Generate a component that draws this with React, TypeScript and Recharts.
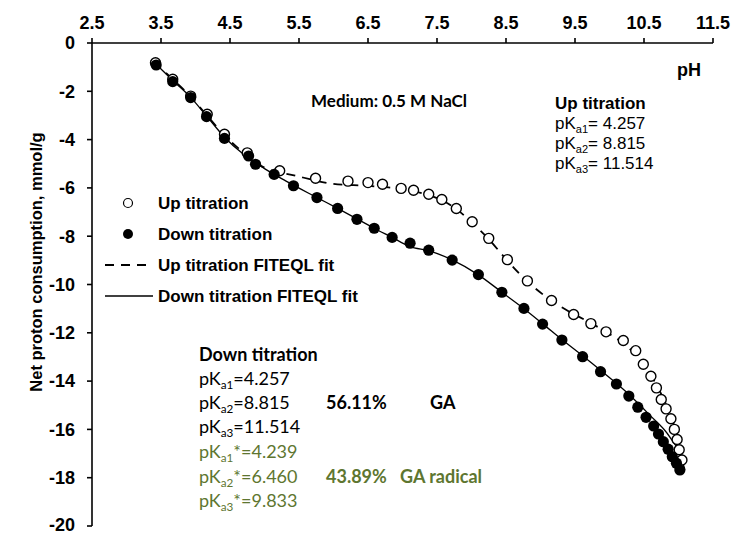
import React from 'react';
import { ComposedChart, Scatter, Line, XAxis, YAxis, Legend } from 'recharts';

// measured points (pH, net proton consumption in mmol/g)
const upTitrationPH = [3.42, 3.67, 3.93, 4.17, 4.42, 4.75, 5.22, 5.74, 6.21, 6.5, 6.71, 6.98, 7.16, 7.38, 7.57, 7.78, 8.01, 8.25, 8.52, 8.81, 9.16, 9.48, 9.73, 9.95, 10.2, 10.38, 10.49, 10.6, 10.68, 10.75, 10.82, 10.89, 10.94, 10.98, 11.01, 11.05];
const upTitrationNet = [-0.82, -1.5, -2.2, -2.95, -3.78, -4.55, -5.29, -5.6, -5.72, -5.78, -5.85, -6.02, -6.1, -6.26, -6.48, -6.85, -7.4, -8.09, -8.97, -9.85, -10.66, -11.24, -11.62, -11.96, -12.32, -12.74, -13.3, -13.8, -14.28, -14.76, -15.15, -15.56, -16.0, -16.42, -16.84, -17.27];

const downTitrationPH = [3.43, 3.67, 3.93, 4.16, 4.42, 4.77, 4.87, 5.14, 5.42, 5.76, 6.06, 6.34, 6.59, 6.85, 7.11, 7.38, 7.72, 8.1, 8.44, 8.76, 9.03, 9.31, 9.61, 9.87, 10.1, 10.28, 10.41, 10.53, 10.64, 10.71, 10.78, 10.85, 10.91, 10.97, 11.02];
const downTitrationNet = [-0.91, -1.6, -2.26, -3.05, -3.95, -4.68, -5.02, -5.44, -5.91, -6.4, -6.85, -7.3, -7.67, -8.05, -8.29, -8.58, -8.99, -9.59, -10.32, -10.99, -11.64, -12.3, -12.99, -13.61, -14.12, -14.62, -15.08, -15.5, -15.86, -16.19, -16.51, -16.82, -17.13, -17.4, -17.68];

// FITEQL fits
const upFitPH = [3.4, 3.67, 3.93, 4.16, 4.42, 4.7, 4.97, 5.46, 5.97, 6.5, 7.0, 7.38, 7.6, 7.8, 8.0, 8.25, 8.5, 8.8, 9.1, 9.4, 9.7, 10.0, 10.25, 10.45, 10.62, 10.76, 10.88, 10.97, 11.03, 11.07];
const upFitNet = [-0.8, -1.5, -2.22, -2.98, -3.82, -4.55, -5.12, -5.5, -5.82, -5.92, -6.05, -6.3, -6.55, -6.92, -7.42, -8.12, -8.95, -9.85, -10.55, -11.1, -11.55, -12.05, -12.55, -13.15, -13.85, -14.6, -15.4, -16.15, -16.85, -17.45];

const downFitPH = [3.4, 3.67, 3.93, 4.16, 4.42, 4.7, 5.0, 5.3, 5.76, 6.06, 6.34, 6.59, 6.85, 7.1, 7.4, 7.72, 8.1, 8.44, 8.76, 9.03, 9.31, 9.61, 9.87, 10.24, 10.58, 10.87, 11.06, 11.09];
const downFitNet = [-0.8, -1.55, -2.25, -3.02, -3.9, -4.62, -5.2, -5.7, -6.4, -6.85, -7.28, -7.67, -8.05, -8.42, -8.62, -8.98, -9.6, -10.32, -11.0, -11.62, -12.28, -12.95, -13.55, -14.44, -15.4, -16.3, -17.34, -17.68];

const xTicks = [2.5, 3.5, 4.5, 5.5, 6.5, 7.5, 8.5, 9.5, 10.5, 11.5];
const yTicks = [0, -2, -4, -6, -8, -10, -12, -14, -16, -18, -20];

const zip = (ph: number[], net: number[]) => ph.map((p, i) => ({ ph: p, net: net[i] }));

const upData = zip(upTitrationPH, upTitrationNet);
const downData = zip(downTitrationPH, downTitrationNet);
const upFit = zip(upFitPH, upFitNet);
const downFit = zip(downFitPH, downFitNet);

const ARIAL = '"Liberation Sans", Arial, sans-serif';
const CALIBRI = 'Lato, "Open Sans", sans-serif';
const GREEN = '#5e7630';

const OpenDot = (props: any) => (
  <circle cx={props.cx} cy={props.cy} r={5} fill="#fff" stroke="#000" strokeWidth={1.4} />
);
const FilledDot = (props: any) => (
  <circle cx={props.cx} cy={props.cy} r={5.6} fill="#000" />
);

const legendRows = [
  { label: 'Up titration', kind: 'open' },
  { label: 'Down titration', kind: 'filled' },
  { label: 'Up titration FITEQL fit', kind: 'dashed' },
  { label: 'Down titration FITEQL fit', kind: 'solid' },
];

const LegendContent = () => (
  <svg width={300} height={125} style={{ display: 'block' }}>
    {legendRows.map((r, i) => {
      const y = 16 + i * 31;
      return (
        <g key={r.label}>
          {r.kind === 'open' && <circle cx={28} cy={y} r={4.5} fill="#fff" stroke="#000" strokeWidth={1.2} />}
          {r.kind === 'filled' && <circle cx={28} cy={y} r={5} fill="#000" />}
          {r.kind === 'dashed' && <line x1={5} x2={53} y1={y} y2={y} stroke="#000" strokeWidth={1.8} strokeDasharray="9 7" />}
          {r.kind === 'solid' && <line x1={5} x2={53} y1={y} y2={y} stroke="#000" strokeWidth={1.3} />}
          <text x={58} y={y + 6} fontFamily={ARIAL} fontWeight="bold" fontSize={17} fill="#000">
            {r.label}
          </text>
        </g>
      );
    })}
  </svg>
);

// pK with a subscript and an optional asterisk
const PK = ({ x, y, sub, star, value, size, family, fill }: any) => (
  <text x={x} y={y} fontFamily={family} fontSize={size} fill={fill}>
    pK
    <tspan fontSize={size * 0.65} dy={size * 0.22}>{sub}</tspan>
    <tspan dy={-size * 0.22}>{star ? '*' : ''}{value}</tspan>
  </text>
);

const Annotations = () => (
  <svg width={736} height={535} style={{ position: 'absolute', left: 0, top: 0, pointerEvents: 'none' }}>
    <text transform="translate(42,262) rotate(-90)" textAnchor="middle" fontFamily={ARIAL} fontWeight="bold" fontSize={16.5} fill="#000">
      Net proton consumption, mmol/g
    </text>
    <text x={677} y={76} fontFamily={ARIAL} fontWeight="bold" fontSize={18} fill="#000">pH</text>
    <text x={311} y={107} fontFamily={CALIBRI} fontWeight="bold" fontSize={17} fill="#000">Medium: 0.5 M NaCl</text>

    <text x={555} y={109} fontFamily={ARIAL} fontWeight="bold" fontSize={17} fill="#000">Up titration</text>
    <PK x={555} y={129} sub="a1" value="= 4.257" size={17} family={ARIAL} fill="#000" />
    <PK x={555} y={149} sub="a2" value="= 8.815" size={17} family={ARIAL} fill="#000" />
    <PK x={555} y={169} sub="a3" value="= 11.514" size={17} family={ARIAL} fill="#000" />

    <text x={199} y={361} fontFamily={CALIBRI} fontWeight="bold" fontSize={18} fill="#000">Down titration</text>
    <PK x={199} y={385} sub="a1" value="=4.257" size={18} family={CALIBRI} fill="#000" />
    <PK x={199} y={409} sub="a2" value="=8.815" size={18} family={CALIBRI} fill="#000" />
    <PK x={199} y={433} sub="a3" value="=11.514" size={18} family={CALIBRI} fill="#000" />
    <PK x={199} y={458} sub="a1" star value="=4.239" size={18} family={CALIBRI} fill={GREEN} />
    <PK x={199} y={483} sub="a2" star value="=6.460" size={18} family={CALIBRI} fill={GREEN} />
    <PK x={199} y={507} sub="a3" star value="=9.833" size={18} family={CALIBRI} fill={GREEN} />

    <text x={326} y={409} fontFamily={CALIBRI} fontWeight="bold" fontSize={18} fill="#000">56.11%</text>
    <text x={430} y={409} fontFamily={CALIBRI} fontWeight="bold" fontSize={18} fill="#000">GA</text>
    <text x={326} y={483} fontFamily={CALIBRI} fontWeight="bold" fontSize={18} fill={GREEN}>43.89%</text>
    <text x={400} y={483} fontFamily={CALIBRI} fontWeight="bold" fontSize={18} fill={GREEN}>GA radical</text>
  </svg>
);

export default function App() {
  const tickStyle = { fill: '#000', fontSize: 18, fontWeight: 'bold', fontFamily: ARIAL };
  return (
    <div style={{ position: 'fixed', left: 0, top: 0, width: 736, height: 535, background: '#fff' }}>
      <ComposedChart width={736} height={535} margin={{ top: 13, right: 23, bottom: 9, left: 32 }}>
        <XAxis
          type="number"
          dataKey="ph"
          orientation="top"
          domain={[2.5, 11.5]}
          ticks={xTicks}
          tickFormatter={(v: number) => v.toFixed(1)}
          allowDataOverflow
          height={30}
          tick={tickStyle}
          tickSize={5}
          tickMargin={9}
          axisLine={{ stroke: '#000', strokeWidth: 1.6 }}
          tickLine={{ stroke: '#000', strokeWidth: 1.6 }}
        />
        <YAxis
          type="number"
          dataKey="net"
          domain={[-20, 0]}
          ticks={yTicks}
          allowDataOverflow
          width={60}
          tick={tickStyle}
          tickSize={5}
          tickMargin={12}
          axisLine={{ stroke: '#000', strokeWidth: 1.6 }}
          tickLine={{ stroke: '#000', strokeWidth: 1.6 }}
        />
        <Legend
          layout="vertical"
          align="center"
          verticalAlign="middle"
          wrapperStyle={{ left: 100, top: 187, width: 300 }}
          content={() => <LegendContent />}
        />
        <Scatter name="Up titration" data={upData} shape={OpenDot} isAnimationActive={false} />
        <Scatter name="Down titration" data={downData} shape={FilledDot} isAnimationActive={false} />
        <Line
          name="Up titration FITEQL fit"
          data={upFit}
          dataKey="net"
          type="monotone"
          stroke="#000"
          strokeWidth={1.8}
          strokeDasharray="9 7"
          dot={false}
          activeDot={false}
          isAnimationActive={false}
        />
        <Line
          name="Down titration FITEQL fit"
          data={downFit}
          dataKey="net"
          type="monotone"
          stroke="#000"
          strokeWidth={1.3}
          dot={false}
          activeDot={false}
          isAnimationActive={false}
        />
      </ComposedChart>
      <Annotations />
    </div>
  );
}
